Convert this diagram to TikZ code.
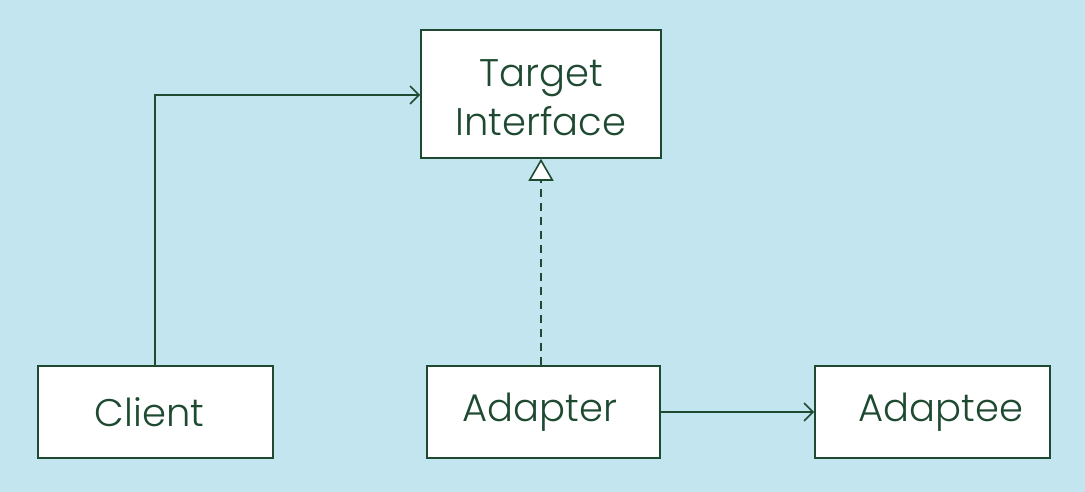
\documentclass[tikz,border=0pt]{standalone}
\usepackage{fontspec}
\setmainfont{Poppins}[UprightFont=* Light]
\usetikzlibrary{arrows.meta}
\definecolor{bg}{HTML}{C3E5F0}
\definecolor{ln}{HTML}{1F4A32}
\begin{document}
\begin{tikzpicture}[x=1pt,y=-1pt,
  box/.style={draw=ln,fill=white,line width=1.6pt,inner sep=0pt,text=ln,font=\fontsize{38.5}{49}\selectfont,align=center},
  conn/.style={draw=ln,line width=1.6pt},
  open/.style={-{Straight Barb[length=9pt,width=18pt,line width=1.6pt]}},
  tri/.style={-{Triangle[open,length=22pt,width=25pt,line width=1.6pt,fill=white]}}]
\fill[bg] (0,0) rectangle (1085,492);
\useasboundingbox (0,0) rectangle (1085,492);
\node[box,minimum width=240pt,minimum height=128pt] (target) at (541,94) {};
\node[text=ln,font=\fontsize{38.5}{49}\selectfont,align=center,inner sep=0pt] (tlabel) at ([yshift=-4pt]target.center) {Target\\Interface};
\node[box,minimum width=235pt,minimum height=92pt] (client) at (155.5,412) {\hspace*{-12pt}Client};
\node[box,minimum width=233pt,minimum height=92pt] (adapter) at (543.5,412) {\hspace*{-7pt}Adapter};
\node[box,minimum width=235pt,minimum height=92pt] (adaptee) at (932.5,412) {\hspace*{17pt}Adaptee};
\coordinate (bend) at (155,95);
\draw[conn,open] (client.north -| bend) -- (bend) -- (target.west |- bend);
\draw[conn,dashed,dash pattern=on 8pt off 6pt,tri] (adapter.north -| target.south) -- (target.south);
\draw[conn,open] (adapter.east) -- (adaptee.west);
\end{tikzpicture}
\end{document}
